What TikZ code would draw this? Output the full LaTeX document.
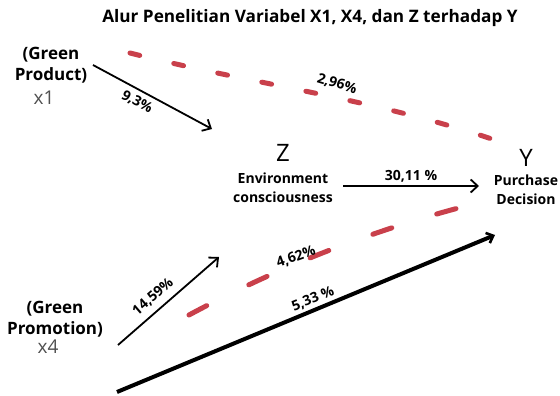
\documentclass[tikz,border=0pt]{standalone}
\usepackage{fontspec}
\setmainfont{Open Sans}
\usetikzlibrary{arrows.meta}
\definecolor{dashred}{RGB}{201,64,75}
\definecolor{vargray}{RGB}{80,80,80}
\begin{document}
\begin{tikzpicture}[x=1pt,y=-1pt,
  titletxt/.style={font=\bfseries\fontsize{17.2}{20}\selectfont, inner sep=0},
  lbl/.style={font=\bfseries\fontsize{14}{19.5}\selectfont, align=center, inner sep=0},
  biglbl/.style={font=\bfseries\fontsize{17}{21}\selectfont, align=center, inner sep=0},
  varcode/.style={font=\fontsize{19}{22}\selectfont, text=vargray, inner sep=0},
  bigvar/.style={font=\fontsize{24}{28}\selectfont, inner sep=0},
  pct/.style={font=\bfseries\fontsize{14}{17}\selectfont, inner sep=0},
  thinarrow/.style={line width=1.8pt, -{Straight Barb[length=7pt,width=13pt,line width=1.8pt]}},
  thickarrow/.style={line width=4pt, -{Straight Barb[length=6pt,width=11pt,line width=2.6pt]}},
  reddash/.style={dashred, line width=5pt, line cap=round},
]
\useasboundingbox (0,0) rectangle (560,396);
\fill[white] (0,0) rectangle (560,396);

% title
\node[titletxt] (title) at (310,18) {Alur Penelitian Variabel X1, X4, dan Z terhadap Y};

% X1
\node[biglbl] (x1name) at (51,65) {(Green\\Product)};
\node[varcode] (x1) at (44,98) {x1};
% X4
\node[biglbl] (x4name) at (55,319) {(Green\\Promotion)};
\node[varcode] (x4) at (48,347) {x4};
% Z
\node[bigvar] (z) at (283,153) {Z};
\node[lbl] (zname) at (283,187.5) {Environment\\consciousness};
% Y
\node[bigvar] (y) at (526,158) {Y};
\node[lbl] (yname) at (526,189.5) {Purchase\\Decision};

% arrow end points
\coordinate (a1s) at (93,65);
\coordinate (a1e) at (212,129);
\coordinate (a2s) at (343,186);
\coordinate (a2e) at (479,186);
\coordinate (a3s) at (118,345);
\coordinate (a3e) at (219,257);
\coordinate (a4s) at (117,392);
\coordinate (a4e) at (495,235);

\draw[thinarrow] (a1s) -- (a1e);
\draw[thinarrow] (a2s) -- (a2e);
\draw[thinarrow] (a3s) -- (a3e);
\draw[thickarrow] (a4s) -- (a4e);

% red dashed curves
\coordinate (d1s) at (130,53);
\coordinate (d1e) at (512,146);
\coordinate (d2s) at (189,315);
\coordinate (d2e) at (466,206);
\draw[reddash, dash pattern=on 10pt off 35pt] (d1s) .. controls (256,85) and (384,100) .. (d1e);
\draw[reddash, dash pattern=on 20pt off 47pt] (d2s) .. controls (280,266) and (374,230) .. (d2e);

% percentages
\node[pct, rotate=-28] (p1) at (137,102) {9,3\%};
\node[pct] (p2) at (411,176) {30,11 \%};
\node[pct, rotate=41] (p3) at (153,297) {14,59\%};
\node[pct, rotate=22] (p4) at (313,299) {5,33 \%};
\node[pct, rotate=-17] (p5) at (337,84) {2,96\%};
\node[pct, rotate=20] (p6) at (296,257) {4,62\%};
\end{tikzpicture}
\end{document}
